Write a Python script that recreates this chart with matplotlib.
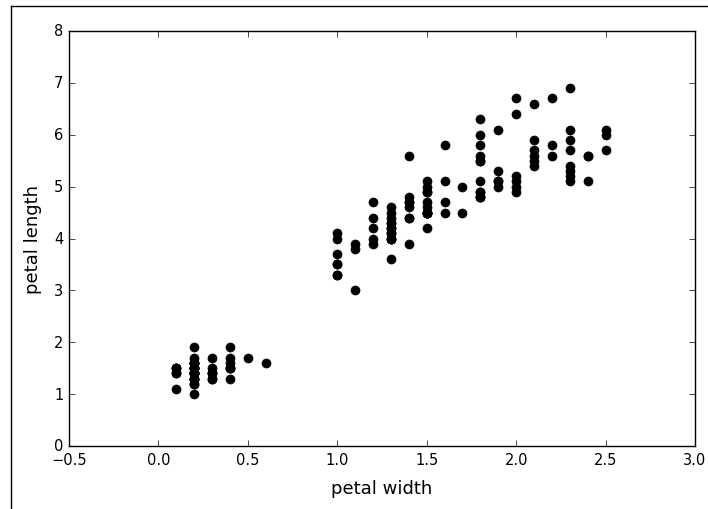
import matplotlib
matplotlib.use("Agg")
import matplotlib.pyplot as plt
from matplotlib.lines import Line2D

# iris: petal width (cm) and petal length (cm), setosa / versicolor / virginica
petal_width = [
    0.2, 0.2, 0.2, 0.2, 0.2, 0.4, 0.3, 0.2, 0.2, 0.1,
    0.2, 0.2, 0.1, 0.1, 0.2, 0.4, 0.4, 0.3, 0.3, 0.3,
    0.2, 0.4, 0.2, 0.5, 0.2, 0.2, 0.4, 0.2, 0.2, 0.2,
    0.2, 0.4, 0.1, 0.2, 0.1, 0.2, 0.2, 0.1, 0.2, 0.2,
    0.3, 0.3, 0.2, 0.6, 0.4, 0.3, 0.2, 0.2, 0.2, 0.2,
    1.4, 1.5, 1.5, 1.3, 1.5, 1.3, 1.6, 1.0, 1.3, 1.4,
    1.0, 1.5, 1.0, 1.4, 1.3, 1.4, 1.5, 1.0, 1.5, 1.1,
    1.8, 1.3, 1.5, 1.2, 1.3, 1.4, 1.4, 1.7, 1.5, 1.0,
    1.1, 1.0, 1.2, 1.6, 1.5, 1.6, 1.5, 1.3, 1.3, 1.3,
    1.2, 1.4, 1.2, 1.0, 1.3, 1.2, 1.3, 1.3, 1.1, 1.3,
    2.5, 1.9, 2.1, 1.8, 2.2, 2.1, 1.7, 1.8, 1.8, 2.5,
    2.0, 1.9, 2.1, 2.0, 2.4, 2.3, 1.8, 2.2, 2.3, 1.5,
    2.3, 2.0, 2.0, 1.8, 2.1, 1.8, 1.8, 1.8, 2.1, 1.6,
    1.9, 2.0, 2.2, 1.5, 1.4, 2.3, 2.4, 1.8, 1.8, 2.1,
    2.4, 2.3, 1.9, 2.3, 2.5, 2.3, 1.9, 2.0, 2.3, 1.8,
]
petal_length = [
    1.4, 1.4, 1.3, 1.5, 1.4, 1.7, 1.4, 1.5, 1.4, 1.5,
    1.5, 1.6, 1.4, 1.1, 1.2, 1.5, 1.3, 1.4, 1.7, 1.5,
    1.7, 1.5, 1.0, 1.7, 1.9, 1.6, 1.6, 1.5, 1.4, 1.6,
    1.6, 1.5, 1.5, 1.4, 1.5, 1.2, 1.3, 1.4, 1.3, 1.5,
    1.3, 1.3, 1.3, 1.6, 1.9, 1.4, 1.6, 1.4, 1.5, 1.4,
    4.7, 4.5, 4.9, 4.0, 4.6, 4.5, 4.7, 3.3, 4.6, 3.9,
    3.5, 4.2, 4.0, 4.7, 3.6, 4.4, 4.5, 4.1, 4.5, 3.9,
    4.8, 4.0, 4.9, 4.7, 4.3, 4.4, 4.8, 5.0, 4.5, 3.5,
    3.8, 3.7, 3.9, 5.1, 4.5, 4.5, 4.7, 4.4, 4.1, 4.0,
    4.4, 4.6, 4.0, 3.3, 4.2, 4.2, 4.2, 4.3, 3.0, 4.1,
    6.0, 5.1, 5.9, 5.6, 5.8, 6.6, 4.5, 6.3, 5.8, 6.1,
    5.1, 5.3, 5.5, 5.0, 5.1, 5.3, 5.5, 6.7, 6.9, 5.0,
    5.7, 4.9, 6.7, 4.9, 5.7, 6.0, 4.8, 4.9, 5.6, 5.8,
    6.1, 6.4, 5.6, 5.1, 5.6, 6.1, 5.6, 5.5, 4.8, 5.4,
    5.6, 5.1, 5.1, 5.9, 5.7, 5.2, 5.0, 5.2, 5.4, 5.1,
]

plt.style.use("classic")
plt.rcParams["font.family"] = "DejaVu Sans"

W, H = 708, 510
fig = plt.figure(figsize=(W / 100, H / 100), dpi=100, facecolor="white")
ax = fig.add_axes([69 / W, 1 - 447 / H, (695 - 69) / W, (447 - 32) / H])

ax.plot(petal_width, petal_length, "o", color="black", markersize=6.5,
        markeredgecolor="black")
ax.set_xlim(-0.5, 3.0)
ax.set_ylim(0, 8)
ax.set_xlabel("petal width", fontsize=13, labelpad=9)
ax.set_ylabel("petal length", fontsize=13, labelpad=9)
ax.tick_params(labelsize=10.5)

# outer frame (cropped screenshot border on top and left)
fy = 1 - 7 / H
fx = 11 / W
fig.add_artist(Line2D([fx, 1], [fy, fy], color="black", lw=1))
fig.add_artist(Line2D([fx, fx], [0, fy], color="black", lw=1))

fig.savefig("out.png", dpi=100, facecolor="white")
